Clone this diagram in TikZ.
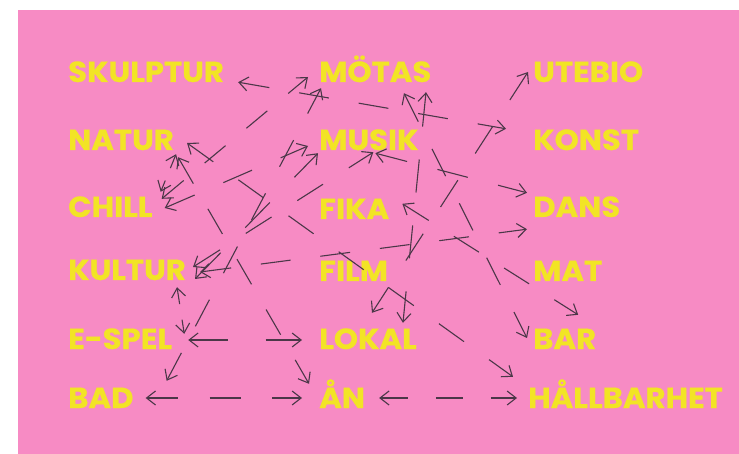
\documentclass[tikz,border=0pt]{standalone}
\usepackage{fontspec}
\setsansfont{Poppins}[BoldFeatures={FakeStretch=1.06,FakeBold=0.6}]
\usetikzlibrary{arrows.meta,calc}
\definecolor{wdPink}{HTML}{F78BC4}
\definecolor{wdYellow}{HTML}{F2E425}
\definecolor{wdInk}{HTML}{4B3748}
\tikzset{
  wd diagram/.style={x=1pt, y=-1pt},
  wd word/.style={font=\sffamily\bfseries\fontsize{29}{29}\selectfont,
    text=wdYellow, anchor=base west, inner sep=0pt,
    text height=20pt, text depth=0pt},
  wd link/.style={draw=wdInk, line width=1.1pt,
    {Straight Barb[length=9pt,width=14pt]}-{Straight Barb[length=9pt,width=14pt]}}
}
% dashed two-headed link, cut into an odd number of equal dashes
\newcommand\wdlink[2]{%
  \path let \p1=(#1), \p2=(#2) in
    \pgfextra{\pgfmathsetmacro\wdlen{veclen((\x2)-(\x1),(\y2)-(\y1))}%
      \pgfmathtruncatemacro\wdparts{2*max(1,round((\wdlen/30-1)/2))+1}%
      \pgfmathsetmacro\wddash{\wdlen/\wdparts}%
      \global\let\wddash\wddash};
  \draw[wd link, dash pattern=on \wddash pt off \wddash pt] (#1) -- (#2);}

\begin{document}
\begin{tikzpicture}[wd diagram]
\useasboundingbox (0,0) rectangle (739,454);
\fill[white] (0,0) rectangle (739,454);
\fill[wdPink] (18,10) rectangle (739,454);
% words
\node[wd word] (skulptur) at (68,82) {SKULPTUR};
\node[wd word] (motas) at (319,82) {MÖTAS};
\node[wd word] (utebio) at (533,82) {UTEBIO};
\node[wd word] (natur) at (68,150) {NATUR};
\node[wd word] (musik) at (319,150) {MUSIK};
\node[wd word] (konst) at (533,150) {KONST};
\node[wd word] (chill) at (68,217) {CHILL};
\node[wd word] (fika) at (319,219) {FIKA};
\node[wd word] (dans) at (533,217) {DANS};
\node[wd word] (kultur) at (68,280) {KULTUR};
\node[wd word] (film) at (319,281) {FILM};
\node[wd word] (mat) at (533,281) {MAT};
\node[wd word] (espel) at (68,349) {E-SPEL};
\node[wd word] (lokal) at (319,349) {LOKAL};
\node[wd word] (bar) at (533,349) {BAR};
\node[wd word] (bad) at (68,408) {BAD};
\node[wd word] (an) at (319,408) {ÅN};
\node[wd word] (hall) at (528,408) {HÅLLBARHET};
% links
\wdlink{[shift={(12,0)}]bad.east}{[shift={(-17,0)}]an.west}
\wdlink{[shift={(14,0)}]an.east}{[shift={(-11,0)}]hall.west}
\wdlink{[shift={(16,1)}]espel.east}{[shift={(-17,1)}]lokal.west}
\wdlink{[shift={(-9,7)}]kultur.south east}{[shift={(12,5)}]espel.north east}
\wdlink{[shift={(14,0)}]skulptur.south east}{[shift={(-27,-1)}]konst.north west}
\wdlink{[shift={(9,2)}]chill.north east}{[shift={(-11,5)}]motas.west}
\wdlink{[shift={(33,-7)}]bad.north east}{[shift={(2,6)}]motas.south west}
\wdlink{[shift={(4,7)}]natur.south east}{[shift={(-10,-4)}]an.north west}
\wdlink{[shift={(13,3)}]natur.east}{[shift={(-15,-11)}]hall.north west}
\wdlink{[shift={(12,1)}]chill.east}{[shift={(-11,6)}]musik.west}
\wdlink{[shift={(9,9)}]kultur.east}{[shift={(-1,3)}]musik.south west}
\wdlink{[shift={(7,-3)}]kultur.east}{[shift={(4.5,2)}]musik.south}
\wdlink{[shift={(14,2)}]kultur.east}{[shift={(-6,12)}]dans.south west}
\wdlink{[shift={(85,11)}]motas.south west}{[shift={(-6,-1)}]bar.west}
\wdlink{[shift={(107,10)}]motas.south west}{[shift={(-14,-6)}]lokal.north east}
\wdlink{[shift={(-5,0)}]utebio.west}{[shift={(4,-16)}]lokal.north}
\wdlink{[shift={(13,5)}]fika.north east}{[shift={(13.5,-14)}]bar.north}
\wdlink{[shift={(6.5,3)}]musik.south}{[shift={(-6,-4)}]dans.north west}
\wdlink{[shift={(2,4)}]natur.south east}{[shift={(8,-5)}]chill.north east}
\end{tikzpicture}
\end{document}
